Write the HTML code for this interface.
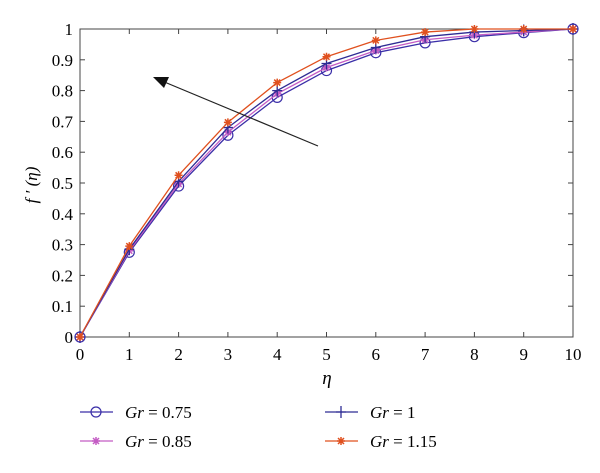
<!DOCTYPE html>
<html><head><meta charset="utf-8"><style>
body{margin:0;background:#fff;}
text{font-family:"Liberation Serif",serif;}
</style></head><body>
<svg id="chart" width="600" height="468" xmlns="http://www.w3.org/2000/svg">
<rect x="80" y="29" width="493" height="308" fill="#fff" stroke="#444" stroke-width="1"/>
<g id="axes"></g>
<g id="series"></g>
<line x1="318" y1="146" x2="162" y2="81" stroke="#222" stroke-width="1.2"/>
<polygon points="153,77 169,77 164,88" fill="#111"/>
<text x="327" y="384" font-size="19" font-style="italic" text-anchor="middle">η</text>
<text transform="translate(37,185) rotate(-90)" font-size="17" font-style="italic" text-anchor="middle">f ′ (η)</text>
<g id="legend"></g>
</svg>
<script>
const xVals=[0,1,2,3,4,5,6,7,8,9,10];
const gr075=[0,0.275,0.49,0.655,0.778,0.865,0.923,0.955,0.975,0.988,1];
const gr085=[0,0.28,0.497,0.665,0.79,0.875,0.93,0.965,0.98,0.99,1];
const gr1=[0,0.285,0.505,0.68,0.80,0.888,0.94,0.975,0.99,0.995,1];
const gr115=[0,0.295,0.525,0.697,0.826,0.91,0.963,0.99,1,1,1];
const xTicks=[0,1,2,3,4,5,6,7,8,9,10];
const yTicks=[0,0.1,0.2,0.3,0.4,0.5,0.6,0.7,0.8,0.9,1];
const yTickLabels=["0","0.1","0.2","0.3","0.4","0.5","0.6","0.7","0.8","0.9","1"];
const NS="http://www.w3.org/2000/svg";
const X=v=>80+v*49.3, Y=v=>337-v*308;
function mk(t,a,p){const e=document.createElementNS(NS,t);for(const k in a)e.setAttribute(k,a[k]);p.appendChild(e);return e;}
const axes=document.getElementById('axes');
xTicks.forEach(t=>{
 const l=mk('line',{x1:X(t),x2:X(t),y1:337,y2:332,stroke:'#444'},axes);
 
 
 const l2=mk('line',{x1:X(t),x2:X(t),y1:29,y2:34,stroke:'#444'},axes);
 
 
 const tx=mk('text',{x:X(t),y:360,'font-size':17,'text-anchor':'middle'},axes);
 tx.textContent=t;
 
 
});
yTicks.forEach((t,i)=>{
 const l=mk('line',{x1:80,x2:85,y1:Y(t),y2:Y(t),stroke:'#444'},axes);
 
 
 const l2=mk('line',{x1:568,x2:573,y1:Y(t),y2:Y(t),stroke:'#444'},axes);
 
 
 const tx=mk('text',{x:73,y:Y(t)+6,'font-size':17,'text-anchor':'end'},axes);
 tx.textContent=yTickLabels[i];
 
 
});
function marker(type,x,y,c,g){
 if(type==='o'){mk('circle',{cx:x,cy:y,r:5,fill:'none',stroke:c,'stroke-width':1.2},g);}
 else if(type==='+'){mk('path',{d:`M${x-5},${y}H${x+5}M${x},${y-6}V${y+6}`,stroke:c,'stroke-width':1.3,fill:'none'},g);}
 else {mk('path',{d:`M${x-4},${y}H${x+4}M${x},${y-4}V${y+4}M${x-3},${y-3}L${x+3},${y+3}M${x-3},${y+3}L${x+3},${y-3}`,stroke:c,'stroke-width':1.5,fill:'none'},g);}
}
const series=[
 {name:'gr-0.75',data:gr075,c:'#3b2fa8',m:'o',label:'Gr = 0.75'},
 {name:'gr-0.85',data:gr085,c:'#c45cc4',m:'*',label:'Gr = 0.85'},
 {name:'gr-1',data:gr1,c:'#2e2c94',m:'+',label:'Gr = 1'},
 {name:'gr-1.15',data:gr115,c:'#e0501e',m:'*',label:'Gr = 1.15'}
];
const sg=document.getElementById('series');
series.forEach(s=>{
 const g=mk('g',{},sg);
 
 
 const p=mk('polyline',{points:xVals.map((x,i)=>X(x)+','+Y(s.data[i])).join(' '),fill:'none',stroke:s.c,'stroke-width':1.3},g);
 
 
 xVals.forEach((x,i)=>marker(s.m,X(x),Y(s.data[i]),s.c,g));
});
const lg=document.getElementById('legend');
const pos=[[80,412],[80,441],[325,412],[325,441]];
series.forEach((s,i)=>{
 const [x,y]=pos[i];
 const g=mk('g',{},lg);
 
 
 mk('line',{x1:x,x2:x+33,y1:y,y2:y,stroke:s.c,'stroke-width':1.3},g);
 marker(s.m,x+16,y,s.c,g);
 const t=mk('text',{x:x+45,y:y+6,'font-size':17},g);
 const it=mk('tspan',{'font-style':'italic'},t);it.textContent='Gr';
 const rest=mk('tspan',{},t);rest.textContent=' = '+s.label.split('= ')[1];
});
</script>
</body></html>
